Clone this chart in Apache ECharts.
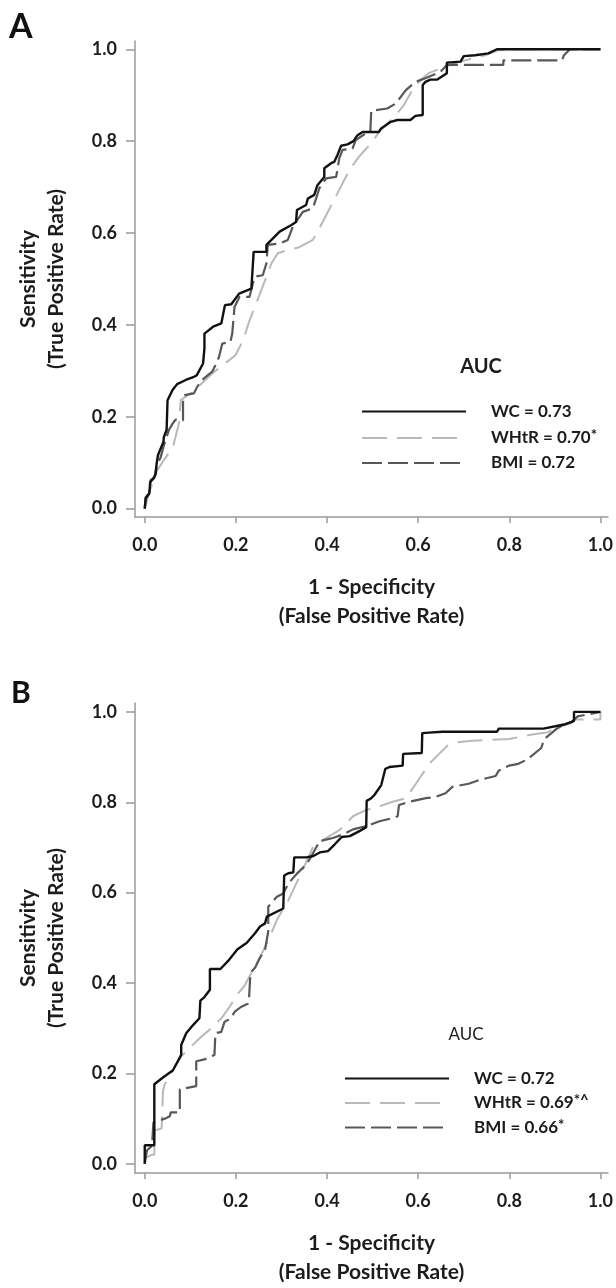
<!DOCTYPE html>
<html><head><meta charset="utf-8">
<script src="https://cdn.jsdelivr.net/npm/echarts@6/dist/echarts.min.js"></script>
<style>html,body{margin:0;padding:0;background:#fff}#c{width:616px;height:1288px}</style>
</head><body><div id="c"></div>
<script>
// ---- data ----
const xTicks = [0, 0.2, 0.4, 0.6, 0.8, 1.0];
const yTicks = [0, 0.2, 0.4, 0.6, 0.8, 1.0];
const namesA = ['WC = 0.73', 'WHtR = 0.70', 'BMI = 0.72'];
const supsA = ['', '*', ''];
const namesB = ['WC = 0.72', 'WHtR = 0.69', 'BMI = 0.66'];
const supsB = ['', '*^', '*'];
const panelLabels = ['A', 'B'];
const xTitle = '1 - Specificity\n(False Positive Rate)';
const yTitle = 'Sensitivity\n(True Positive Rate)';

const aWC = [[0,0],[0.002,0.022],[0.010,0.033],[0.012,0.058],[0.019,0.065],[0.024,0.076],[0.026,0.098],[0.029,0.116],[0.035,0.131],[0.041,0.145],[0.042,0.156],[0.048,0.171],[0.050,0.236],[0.061,0.258],[0.071,0.271],[0.090,0.280],[0.108,0.287],[0.114,0.290],[0.128,0.316],[0.131,0.349],[0.131,0.381],[0.150,0.396],[0.168,0.403],[0.176,0.443],[0.190,0.445],[0.207,0.468],[0.234,0.479],[0.237,0.483],[0.239,0.559],[0.267,0.559],[0.267,0.574],[0.278,0.585],[0.296,0.603],[0.321,0.617],[0.332,0.624],[0.334,0.650],[0.354,0.661],[0.358,0.675],[0.372,0.683],[0.379,0.704],[0.394,0.722],[0.394,0.741],[0.409,0.752],[0.416,0.755],[0.423,0.770],[0.431,0.790],[0.445,0.793],[0.458,0.800],[0.467,0.813],[0.478,0.820],[0.514,0.820],[0.518,0.827],[0.540,0.842],[0.554,0.846],[0.583,0.846],[0.594,0.855],[0.610,0.857],[0.610,0.922],[0.616,0.929],[0.627,0.934],[0.642,0.934],[0.663,0.948],[0.663,0.971],[0.693,0.973],[0.700,0.985],[0.725,0.987],[0.754,0.991],[0.773,1.0],[1.0,1.0]];
const aWHtR = [[0,0],[0.010,0.035],[0.027,0.083],[0.045,0.110],[0.062,0.134],[0.075,0.185],[0.079,0.236],[0.105,0.254],[0.148,0.294],[0.199,0.334],[0.216,0.367],[0.230,0.410],[0.256,0.476],[0.278,0.534],[0.292,0.556],[0.318,0.564],[0.339,0.569],[0.369,0.585],[0.383,0.610],[0.412,0.665],[0.449,0.737],[0.470,0.766],[0.500,0.799],[0.514,0.820],[0.551,0.857],[0.569,0.879],[0.587,0.911],[0.605,0.933],[0.623,0.948],[0.652,0.959],[0.682,0.970],[0.718,0.980],[0.747,0.987],[0.776,0.998],[0.820,1.0],[1.0,1.0]];
const aBMI = [[0,0],[0.002,0.025],[0.010,0.034],[0.013,0.062],[0.022,0.069],[0.026,0.094],[0.035,0.112],[0.042,0.138],[0.053,0.171],[0.061,0.185],[0.068,0.194],[0.084,0.192],[0.084,0.232],[0.086,0.247],[0.108,0.251],[0.115,0.265],[0.126,0.280],[0.148,0.298],[0.155,0.312],[0.163,0.330],[0.170,0.359],[0.188,0.363],[0.192,0.381],[0.197,0.439],[0.208,0.461],[0.230,0.461],[0.241,0.505],[0.259,0.508],[0.267,0.534],[0.270,0.574],[0.296,0.577],[0.314,0.585],[0.325,0.614],[0.347,0.646],[0.369,0.654],[0.376,0.675],[0.383,0.697],[0.398,0.719],[0.420,0.722],[0.427,0.763],[0.434,0.781],[0.456,0.784],[0.463,0.802],[0.485,0.817],[0.495,0.820],[0.497,0.866],[0.532,0.871],[0.551,0.882],[0.573,0.911],[0.594,0.929],[0.616,0.937],[0.649,0.951],[0.663,0.966],[0.787,0.966],[0.787,0.976],[0.916,0.976],[0.920,0.987],[0.933,1.0],[1.0,1.0]];

const bWC = [[0,0],[0,0.041],[0.021,0.041],[0.021,0.176],[0.040,0.191],[0.062,0.207],[0.080,0.241],[0.080,0.263],[0.091,0.289],[0.106,0.307],[0.120,0.322],[0.122,0.361],[0.131,0.369],[0.143,0.385],[0.143,0.431],[0.166,0.431],[0.183,0.449],[0.203,0.474],[0.224,0.489],[0.242,0.510],[0.253,0.525],[0.264,0.532],[0.268,0.547],[0.304,0.565],[0.306,0.638],[0.315,0.643],[0.326,0.645],[0.328,0.678],[0.355,0.678],[0.370,0.681],[0.384,0.689],[0.402,0.692],[0.417,0.707],[0.432,0.723],[0.450,0.725],[0.471,0.736],[0.486,0.745],[0.487,0.803],[0.497,0.809],[0.504,0.816],[0.519,0.838],[0.528,0.874],[0.537,0.878],[0.566,0.881],[0.567,0.907],[0.608,0.909],[0.609,0.953],[0.624,0.954],[0.653,0.956],[0.773,0.956],[0.777,0.963],[0.875,0.963],[0.878,0.967],[0.920,0.972],[0.937,0.978],[0.942,0.980],[0.942,1.0],[1.0,1.0]];
const bWHtR = [[0,0],[0,0.012],[0.015,0.020],[0.021,0.020],[0.021,0.074],[0.037,0.078],[0.040,0.161],[0.044,0.176],[0.055,0.194],[0.066,0.216],[0.080,0.238],[0.102,0.260],[0.124,0.281],[0.146,0.300],[0.168,0.322],[0.186,0.347],[0.204,0.376],[0.219,0.394],[0.230,0.415],[0.250,0.452],[0.272,0.496],[0.290,0.540],[0.315,0.583],[0.341,0.638],[0.362,0.685],[0.370,0.703],[0.399,0.721],[0.428,0.739],[0.457,0.769],[0.486,0.783],[0.515,0.791],[0.544,0.801],[0.573,0.809],[0.595,0.841],[0.624,0.885],[0.646,0.907],[0.664,0.925],[0.682,0.932],[0.718,0.936],[0.800,0.940],[0.850,0.950],[0.885,0.955],[0.903,0.965],[0.937,0.975],[0.945,0.983],[1.0,0.983],[1.0,1.0]];
const bBMI = [[0,0],[0.005,0.030],[0.016,0.040],[0.019,0.092],[0.044,0.100],[0.055,0.105],[0.057,0.114],[0.077,0.114],[0.077,0.165],[0.113,0.172],[0.113,0.227],[0.131,0.231],[0.153,0.241],[0.155,0.289],[0.168,0.292],[0.175,0.314],[0.189,0.322],[0.197,0.336],[0.211,0.347],[0.226,0.354],[0.229,0.369],[0.232,0.423],[0.242,0.434],[0.253,0.456],[0.264,0.474],[0.271,0.514],[0.271,0.569],[0.290,0.591],[0.304,0.598],[0.315,0.620],[0.333,0.641],[0.355,0.663],[0.362,0.674],[0.384,0.714],[0.413,0.721],[0.435,0.729],[0.457,0.740],[0.486,0.747],[0.515,0.758],[0.544,0.765],[0.555,0.769],[0.558,0.794],[0.580,0.801],[0.617,0.809],[0.639,0.812],[0.660,0.820],[0.675,0.834],[0.711,0.841],[0.733,0.849],[0.770,0.858],[0.777,0.870],[0.799,0.881],[0.820,0.885],[0.840,0.895],[0.870,0.920],[0.877,0.940],[0.903,0.962],[0.920,0.972],[0.937,0.978],[0.950,0.990],[1.0,1.0]];

// ---- styling / layout ----
const FONT = 'Lato';
const TXT = '#1c1c1c';
const AX = '#9a9a9a';
const sty = [
  {color:'#111', width:2.4, type:'solid'},
  {color:'#b9b9b9', width:2, type:[25,10]},
  {color:'#585858', width:2.2, type:[20,6]}
];
const supMap = {};
namesA.forEach((n,i)=>supMap[n]=supsA[i]);
namesB.forEach((n,i)=>supMap[n]=supsB[i]);

function xAx(gi){
  return {gridIndex:gi, type:'value', min:-0.0214, max:1.0166,
    axisLine:{show:true,onZero:false,lineStyle:{color:AX,width:1.5}},
    axisTick:{show:true,customValues:xTicks,length:6,lineStyle:{color:AX,width:1.5}},
    axisLabel:{customValues:xTicks,formatter:v=>v.toFixed(1),margin:19,fontFamily:FONT,fontWeight:'bold',fontSize:18,color:TXT},
    splitLine:{show:false},
    name:xTitle, nameLocation:'middle', nameGap:56,
    nameTextStyle:{fontFamily:FONT,fontWeight:'bold',fontSize:21,lineHeight:29,color:TXT}};
}
function yAx(gi,mn,mx){
  return {gridIndex:gi, type:'value', min:mn, max:mx,
    axisLine:{show:true,onZero:false,lineStyle:{color:AX,width:1.5}},
    axisTick:{show:true,customValues:yTicks,length:9,lineStyle:{color:AX,width:1.5}},
    axisLabel:{customValues:yTicks,formatter:v=>v.toFixed(1),margin:18,fontFamily:FONT,fontWeight:'bold',fontSize:18,color:TXT},
    splitLine:{show:false},
    name:yTitle, nameLocation:'middle', nameGap:65,
    nameTextStyle:{fontFamily:FONT,fontWeight:'bold',fontSize:21,lineHeight:28,color:TXT}};
}
function ser(name,data,k,gi){
  return {name:name, type:'line', data:data, xAxisIndex:gi, yAxisIndex:gi,
    symbol:'none', showSymbol:false, lineStyle:sty[k], itemStyle:{color:sty[k].color},
    z: k===0 ? 5 : 3, silent:true};
}
function leg(names,left,top,gap){
  return {data:names, orient:'vertical', left:left, top:top, padding:0,
    itemWidth:104, itemHeight:14, itemGap:gap, selectedMode:false,
    itemStyle:{opacity:0},
    formatter: n => '{n|'+n+'}' + (supMap[n] ? '{s|'+supMap[n]+'}' : ''),
    textStyle:{padding:[0,0,0,20], rich:{
      n:{fontFamily:FONT,fontWeight:'bold',fontSize:17,color:TXT,lineHeight:20},
      s:{fontFamily:FONT,fontWeight:'bold',fontSize:15,color:TXT,verticalAlign:'top',lineHeight:13}}}};
}

const option = {
  animation:false,
  backgroundColor:'#fff',
  grid:[
    {left:135, top:41, width:475, height:476},
    {left:135, top:703, width:475, height:477}
  ],
  xAxis:[xAx(0), xAx(1)],
  yAxis:[yAx(0,-0.0183,1.018), yAx(1,-0.0203,1.0196)],
  title:[
    {text:panelLabels[0], left:9, top:10, padding:0, textStyle:{fontFamily:FONT,fontWeight:'bold',fontSize:34,lineHeight:34,color:'#111'}},
    {text:panelLabels[1], left:11, top:678, padding:0, textStyle:{fontFamily:FONT,fontWeight:'bold',fontSize:30,lineHeight:30,color:'#111'}},
    {text:'AUC', left:481, top:356, textAlign:'center', padding:0, textStyle:{fontFamily:FONT,fontWeight:'bold',fontSize:20,lineHeight:22,color:TXT}},
    {text:'AUC', left:466, top:1025, textAlign:'center', padding:0, textStyle:{fontFamily:FONT,fontWeight:'normal',fontSize:17,lineHeight:20,color:TXT}}
  ],
  legend:[leg(namesA,361,403,8), leg(namesB,344,1070,6)],
  series:[
    ser(namesA[1],aWHtR,1,0), ser(namesA[2],aBMI,2,0), ser(namesA[0],aWC,0,0),
    ser(namesB[1],bWHtR,1,1), ser(namesB[2],bBMI,2,1), ser(namesB[0],bWC,0,1)
  ]
};
const chart = echarts.init(document.getElementById('c'), null, {renderer:'canvas'});
chart.setOption(option);
</script></body></html>
